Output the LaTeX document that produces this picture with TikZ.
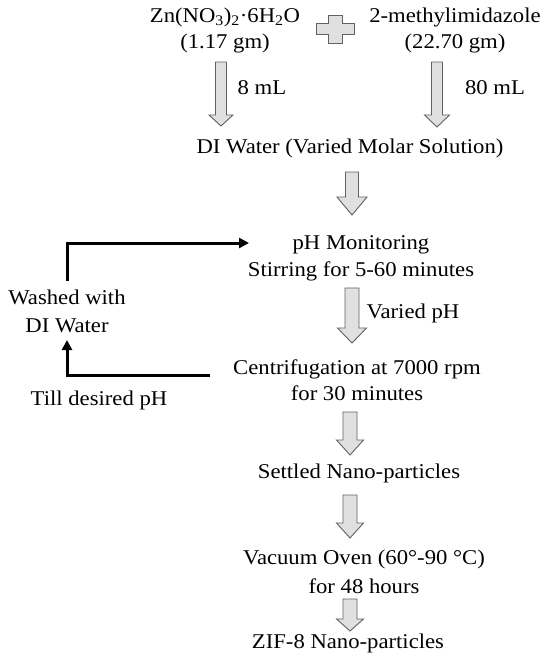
\documentclass[tikz,border=0pt]{standalone}
\usepackage{fontspec}
\setmainfont{Liberation Serif}[FakeStretch=1.08]
\usetikzlibrary{arrows.meta}
\newcommand{\blockarrow}[6]{%
  \draw[blk] ({#1-#5},#2) -- ({#1+#5},#2) -- ({#1+#5},#3) -- ({#1+#6},#3) -- (#1,#4) -- ({#1-#6},#3) -- ({#1-#5},#3) -- cycle;}
\begin{document}
\begin{tikzpicture}[x=1pt,y=-1pt,
  txt/.style={font=\fontsize{21}{27}\selectfont, align=center, inner sep=0pt},
  blk/.style={draw=black!62, fill=black!12, line width=0.9pt, line join=miter},
  loopline/.style={line width=3pt, -{Triangle[length=10pt,width=10pt]}}]
\useasboundingbox[fill=white] (0,0) rectangle (550,667);

% texts
\node[txt, font=\fontsize{21}{26}\selectfont] (zn) at (225,30) {Zn(NO\textsubscript{3})\textsubscript{2}·6H\textsubscript{2}O\\(1.17 gm)};
\node[txt, font=\fontsize{21}{26}\selectfont] (mim) at (455,30) {2-methylimidazole\\(22.70 gm)};
\node[txt] (ml8) at (262,88) {8 mL};
\node[txt] (ml80) at (495,88) {80 mL};
\node[txt] (di) at (350,148) {DI Water (Varied Molar Solution)};
\node[txt] (ph) at (361,258) {pH Monitoring\\Stirring for 5-60 minutes};
\node[txt] (vph) at (413,313) {Varied pH};
\node[txt, font=\fontsize{21}{26}\selectfont] (cf) at (357,380) {Centrifugation at 7000 rpm\\for 30 minutes};
\node[txt] (set) at (359,473) {Settled Nano-particles};
\node[txt, font=\fontsize{21}{29}\selectfont] (vac) at (364,572) {Vacuum Oven (60°-90 °C)\\for 48 hours};
\node[txt] (zif) at (348,643) {ZIF-8 Nano-particles};
\node[txt, font=\fontsize{21}{28}\selectfont] (wash) at (67,311) {Washed with\\DI Water};
\node[txt] (till) at (99,400) {Till desired pH};

% plus sign
\draw[blk] (316,23.5) -- (328,23.5) -- (328,15) -- (342,15) -- (342,23.5) -- (354,23.5)
  -- (354,34.5) -- (342,34.5) -- (342,43) -- (328,43) -- (328,34.5) -- (316,34.5) -- cycle;

% block arrows
\blockarrow{221}{62}{115}{126}{5.5}{12}
\blockarrow{437}{62}{115}{127}{5.5}{12.5}
\blockarrow{352}{172}{197}{215}{6.5}{15}
\blockarrow{352}{288}{328}{343}{7}{14.5}
\blockarrow{350}{412}{440}{455}{7}{13.5}
\blockarrow{350}{495}{523}{538}{7}{13.5}
\blockarrow{350}{599}{619}{631}{7}{13.5}

% feedback loop
\coordinate (phin) at (249,243);
\coordinate (cfout) at (210,375);
\coordinate (washtop) at (67,281);
\coordinate (washbot) at (67,340);
\draw[loopline] (washtop) |- (phin);
\draw[loopline] (cfout) -| (washbot);
\end{tikzpicture}
\end{document}
